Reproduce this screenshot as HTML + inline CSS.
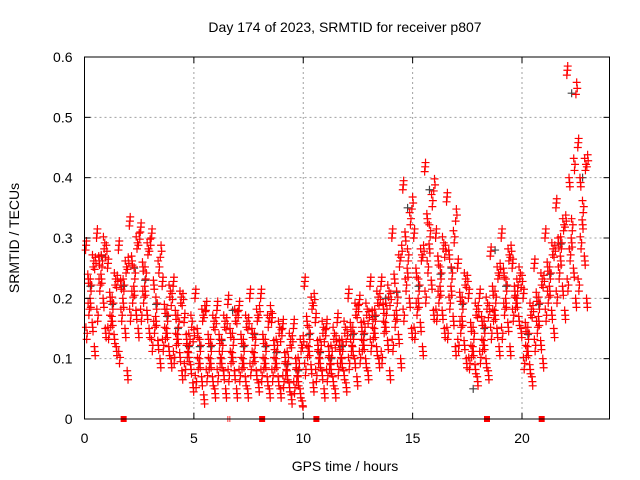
<!DOCTYPE html>
<html><head><meta charset="utf-8"><style>
body{margin:0;background:#fff;}
svg{display:block;font-family:"Liberation Sans",sans-serif;}
</style></head><body>
<svg id="chart" width="640" height="480">
<g id="grid"></g>
<g id="pts"></g>
<g id="axes"></g>
<text x="345" y="32" font-size="14" text-anchor="middle">Day 174 of 2023, SRMTID for receiver p807</text>
<text x="0" y="0" transform="translate(19,238) rotate(-90)" font-size="14" text-anchor="middle">SRMTID / TECUs</text>
<text x="345" y="471" font-size="14" text-anchor="middle">GPS time / hours</text>
</svg>
<script>
const xTicks=[0,5,10,15,20];
const yTicks=[0,0.1,0.2,0.3,0.4,0.5,0.6];
const yTickLabels=["0","0.1","0.2","0.3","0.4","0.5","0.6"];
const binHours=0.5;
const hiVals=[0.28,0.30,0.25,0.28,0.32,0.31,0.30,0.22,0.22,0.16,0.20,0.18,0.18,0.19,0.18,0.20,0.20,0.16,0.15,0.15,0.22,0.16,0.15,0.16,0.20,0.19,0.22,0.22,0.30,0.38,0.30,0.41,0.30,0.36,0.25,0.20,0.20,0.27,0.30,0.25,0.20,0.25,0.30,0.35,0.57,0.45];
const q1Vals=[0.24,0.27,0.21,0.23,0.27,0.26,0.23,0.19,0.18,0.14,0.15,0.14,0.14,0.15,0.14,0.15,0.14,0.13,0.11,0.10,0.17,0.13,0.12,0.13,0.16,0.16,0.18,0.19,0.24,0.31,0.25,0.34,0.27,0.28,0.21,0.16,0.17,0.22,0.25,0.22,0.16,0.21,0.26,0.30,0.40,0.40];
const midVals=[0.20,0.24,0.17,0.20,0.22,0.22,0.17,0.15,0.14,0.11,0.10,0.10,0.10,0.11,0.10,0.11,0.10,0.10,0.08,0.07,0.12,0.10,0.09,0.10,0.12,0.13,0.15,0.16,0.18,0.25,0.20,0.29,0.22,0.22,0.17,0.12,0.13,0.18,0.20,0.20,0.12,0.17,0.22,0.27,0.30,0.33];
const q3Vals=[0.16,0.20,0.14,0.15,0.18,0.18,0.13,0.12,0.11,0.09,0.07,0.07,0.08,0.08,0.07,0.08,0.07,0.07,0.06,0.05,0.09,0.08,0.07,0.08,0.10,0.10,0.12,0.13,0.14,0.20,0.16,0.23,0.18,0.17,0.13,0.09,0.10,0.15,0.16,0.17,0.09,0.13,0.18,0.22,0.25,0.27];
const loVals=[0.12,0.15,0.12,0.08,0.15,0.15,0.10,0.10,0.08,0.06,0.04,0.05,0.05,0.05,0.05,0.06,0.05,0.05,0.04,0.03,0.06,0.05,0.05,0.06,0.07,0.08,0.10,0.08,0.10,0.15,0.12,0.18,0.15,0.12,0.10,0.07,0.08,0.12,0.12,0.15,0.07,0.10,0.15,0.18,0.20,0.20];
const grayVals=[0.22,0.27,0.19,0.22,0.25,0.23,0.19,0.17,0.15,0.12,0.12,0.12,0.13,0.18,0.12,0.14,0.12,0.11,0.09,0.08,0.14,0.11,0.10,0.12,0.14,0.14,0.17,0.20,0.21,0.35,0.22,0.38,0.24,0.25,0.19,0.05,0.15,0.28,0.22,0.20,0.14,0.19,0.24,0.29,0.54,0.40];
const redMarkHours=[1.79,8.12,10.6,18.4,20.9];
const grayMarkHours=[6.6];
const X0=84.5,X1=609.5,Y0=419,Y1=57;
const xs=h=>X0+(X1-X0)*h/24;
const ys=v=>Y0-(Y0-Y1)*v/0.6;
const NS="http://www.w3.org/2000/svg";
function mk(tag,attrs,parent){const e=document.createElementNS(NS,tag);for(const k in attrs)e.setAttribute(k,attrs[k]);parent.appendChild(e);return e;}
const grid=document.getElementById('grid'),axes=document.getElementById('axes'),pts=document.getElementById('pts');
xTicks.forEach(t=>{
 const x=xs(t);
 if(t>0){const l=mk('line',{x1:x,x2:x,y1:Y0,y2:Y1,stroke:'#a0a0a0','stroke-dasharray':'2,3'},grid);
 
 }
 mk('line',{x1:x,x2:x,y1:Y0,y2:Y0-6,stroke:'#000'},axes);
 mk('line',{x1:x,x2:x,y1:Y1,y2:Y1+6,stroke:'#000'},axes);
 const tx=mk('text',{x:x,y:Y0+24,'font-size':14,'text-anchor':'middle'},axes);tx.textContent=t;
 
 
});
yTicks.forEach((t,i)=>{
 const y=ys(t);
 if(i>0&&i<yTicks.length-1){const l=mk('line',{x1:X0,x2:X1,y1:y,y2:y,stroke:'#a0a0a0','stroke-dasharray':'2,3'},grid);
 
 }
 mk('line',{x1:X0,x2:X0+6,y1:y,y2:y,stroke:'#000'},axes);
 mk('line',{x1:X1,x2:X1-6,y1:y,y2:y,stroke:'#000'},axes);
 const tx=mk('text',{x:X0-12,y:y+5,'font-size':14,'text-anchor':'end'},axes);tx.textContent=yTickLabels[i];
 
 
});
const box=mk('rect',{x:X0,y:Y1,width:X1-X0,height:Y0-Y1,fill:'none',stroke:'#000','stroke-width':1},axes);


function cross(h,v,color){
 const x=xs(h),y=ys(v);
 const p=mk('path',{d:`M${x-4},${y}H${x+4}M${x},${y-4}V${y+4}`,stroke:color,'stroke-width':1.2,fill:'none'},pts);
 
 
}
grayVals.forEach((v,i)=>cross(i*binHours+0.27,v,'#444'));
const series=[hiVals,q1Vals,midVals,q3Vals,loVals];
const passShiftH=[0,0.05,0.025,0.075,0.04,0.015];
const passShiftV=[0,0.012,-0.008,0.022,-0.015,0.032];
passShiftH.forEach((dh,p)=>{
 series.forEach((arr,j)=>{
  const jj=(p%2)?(4-j):j;
  arr.forEach((v,i)=>{
   const vv=Math.max(0.02,v+passShiftV[p]*(j===0?-1:1));
   cross(i*binHours+(jj+0.5)*binHours/5+dh,vv,'#ff0000');
  });
 });
});
redMarkHours.forEach(h=>{
 const r=mk('rect',{x:xs(h)-3,y:Y0-3,width:6,height:6,fill:'#ff0000'},pts);
 
 
});
grayMarkHours.forEach(h=>{
 const r=mk('path',{d:`M${xs(h)-1},${Y0-3}V${Y0+3}M${xs(h)+1},${Y0-3}V${Y0+3}`,stroke:'#ff0000','stroke-width':0.8},pts);
 
 
});
</script>
</body></html>
